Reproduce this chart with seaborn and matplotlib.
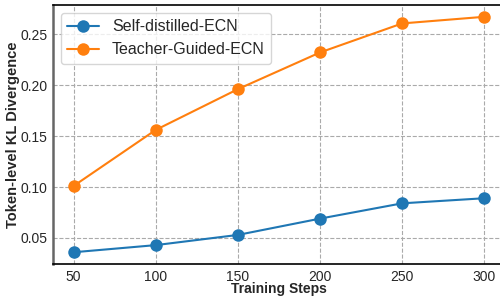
import numpy as np
import pandas as pd
import matplotlib
matplotlib.use("Agg")
import matplotlib.pyplot as plt
import seaborn as sns

steps = [50, 100, 150, 200, 250, 300]
self_distilled = [0.036, 0.043, 0.053, 0.069, 0.084, 0.089]
teacher_guided = [0.101, 0.156, 0.196, 0.232, 0.2605, 0.267]

df = pd.DataFrame({
    "Training Steps": steps * 2,
    "KL": self_distilled + teacher_guided,
    "Method": ["Self-distilled-ECN"] * 6 + ["Teacher-Guided-ECN"] * 6,
})

sns.set_style("whitegrid")
plt.rcParams["font.family"] = ["Liberation Sans", "DejaVu Sans"]

fig = plt.figure(figsize=(5, 2.96), dpi=100)
ax = fig.add_axes([0.106, 0.108, 0.9036, 0.875])

sns.lineplot(data=df, x="Training Steps", y="KL", hue="Method",
             palette=["#1f77b4", "#ff7f0e"], marker="o", markersize=9,
             markeredgewidth=0, linewidth=1.5, ax=ax)

ax.grid(True, linestyle="--", color="#aaaaaa", linewidth=0.8)
for s in ["top", "bottom", "right"]:
    ax.spines[s].set_color("black")
    ax.spines[s].set_linewidth(1.2)
ax.spines["left"].set_color("#666666")
ax.spines["left"].set_linewidth(1.8)

ax.set_xticks(steps)
ax.set_yticks([0.05, 0.10, 0.15, 0.20, 0.25])
ax.tick_params(labelsize=10, length=0)
ax.tick_params(axis="y", pad=4)
ax.tick_params(axis="x", pad=4)
ax.set_xlabel("Training Steps", fontsize=10, fontweight="bold", labelpad=-1.2)
ax.set_ylabel("Token-level KL Divergence", fontsize=10.5, fontweight="bold", labelpad=0)
ax.legend(loc="upper left", fontsize=11.5, frameon=True)

fig.savefig("out.png", dpi=100)
